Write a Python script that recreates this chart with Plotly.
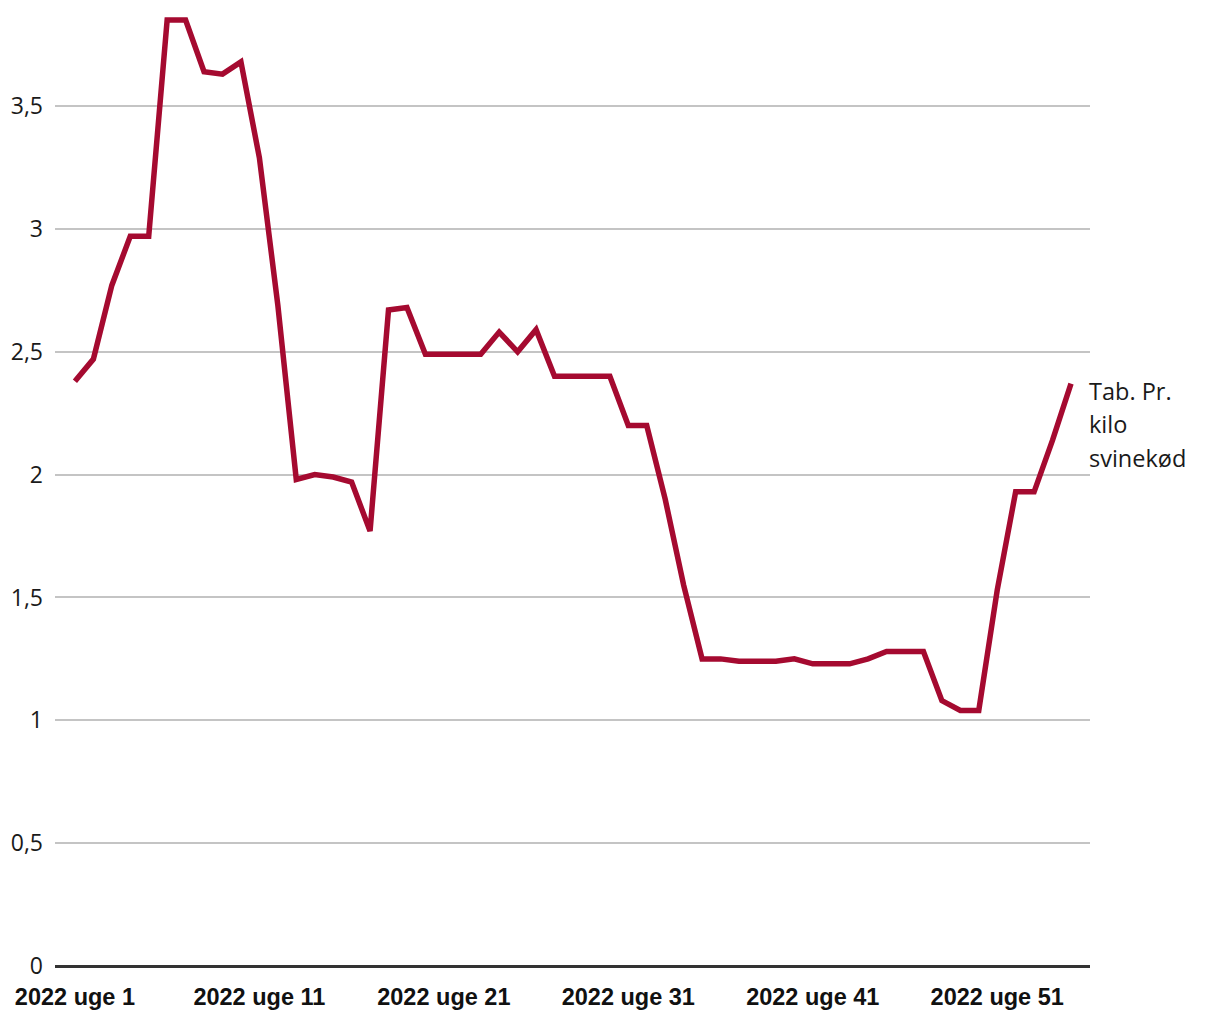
import plotly.graph_objects as go

weeks = [f"2022 uge {i}" for i in range(1, 53)] + ["2023 uge 1", "2023 uge 2", "2023 uge 3"]
values = [2.38, 2.47, 2.77, 2.97, 2.97, 3.85, 3.85, 3.64, 3.63, 3.68,
          3.29, 2.69, 1.98, 2.00, 1.99, 1.97, 1.77, 2.67, 2.68, 2.49,
          2.49, 2.49, 2.49, 2.58, 2.50, 2.59, 2.40, 2.40, 2.40, 2.40,
          2.20, 2.20, 1.90, 1.55, 1.25, 1.25, 1.24, 1.24, 1.24, 1.25,
          1.23, 1.23, 1.23, 1.25, 1.28, 1.28, 1.28, 1.08, 1.04, 1.04,
          1.53, 1.93, 1.93, 2.14, 2.37]
series_label_lines = ["Tab. Pr.", "kilo", "svinekød"]
tick_labels = ["2022 uge 1", "2022 uge 11", "2022 uge 21", "2022 uge 31", "2022 uge 41", "2022 uge 51"]
y_ticks = [0, 0.5, 1, 1.5, 2, 2.5, 3, 3.5]

color = "#a50a30"

fig = go.Figure()
fig.add_trace(go.Scatter(x=weeks, y=values, mode="lines",
                         line=dict(color=color, width=5.5), showlegend=False))

for k, line in enumerate(series_label_lines):
    fig.add_annotation(x=weeks[-1], y=values[-1], text=line, showarrow=False,
                       xanchor="left", yanchor="middle", xshift=16, yshift=-7 - 33.5 * k, align="left",
                       font=dict(family="Open Sans", size=23.5, color="#1a1a1a"))

fig.update_layout(
    width=1212, height=1012,
    margin=dict(l=47, r=130, t=2, b=54),
    plot_bgcolor="white", paper_bgcolor="white",
    separators=", ",
    xaxis=dict(type="category", categoryorder="array", categoryarray=weeks,
               range=[-1.08, 55.03], tickmode="array", tickvals=tick_labels, ticktext=tick_labels,
               showgrid=False, showline=False, zeroline=False, ticks="",
               tickfont=dict(family="Liberation Sans", size=23.5, color="#111111", weight="bold"),
               ticklabelstandoff=14),
    yaxis=dict(range=[0, 3.891], tickvals=y_ticks, showgrid=True, gridcolor="#c4c4c4", gridwidth=1.5,
               zeroline=True, zerolinecolor="#333333", zerolinewidth=2.5, ticks="",
               tickfont=dict(family="Open Sans", size=23, color="#1a1a1a"), ticklabelstandoff=11),
)

fig.write_html("out.html")
